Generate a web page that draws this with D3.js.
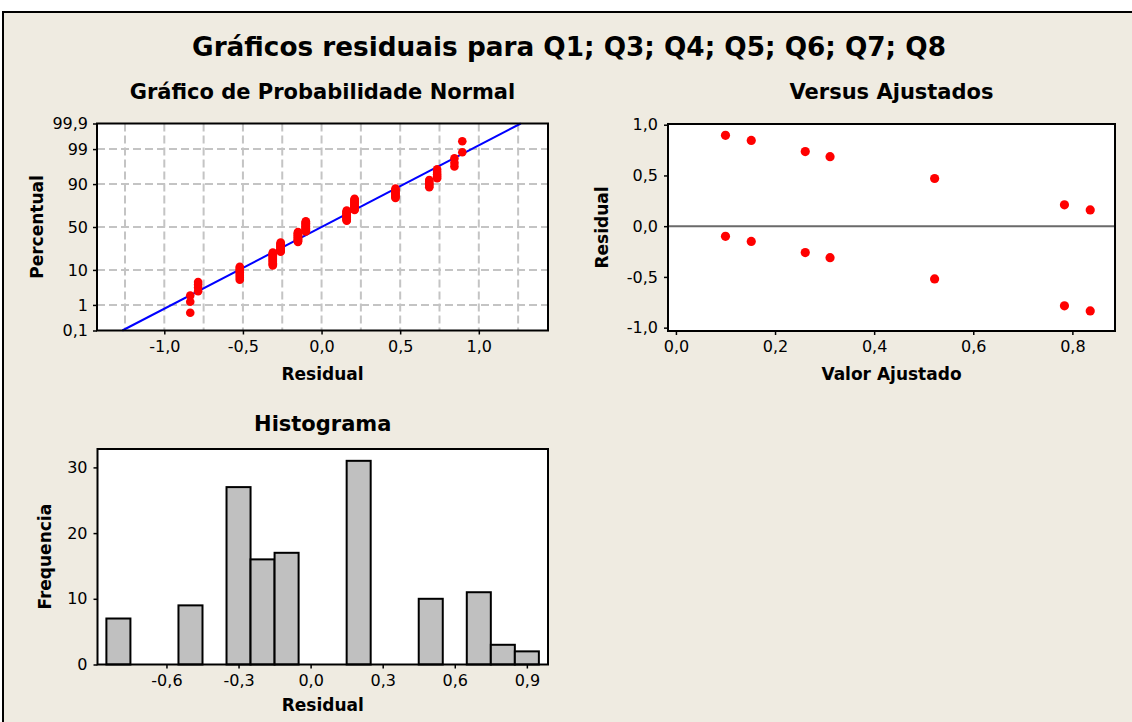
<!DOCTYPE html>
<html>
<head>
<meta charset="utf-8">
<script src="https://cdn.jsdelivr.net/npm/d3@7"></script>
<style>
  body { margin: 0; background: #fff; }
  svg text { font-family: "DejaVu Sans", Verdana, sans-serif; fill: #000; }
</style>
</head>
<body>
<script>
// residual values (distinct) and how many observations sit on each one
var residValues = [-0.835, -0.785, -0.52, -0.31, -0.26, -0.15, -0.10, 0.16, 0.21, 0.47, 0.685, 0.735, 0.845, 0.895];
var residCounts = [3, 4, 9, 14, 13, 16, 17, 16, 15, 10, 6, 5, 3, 2];
// fitted value matching each residual value above
var fittedValues = [0.836, 0.784, 0.522, 0.311, 0.261, 0.152, 0.100, 0.836, 0.784, 0.522, 0.311, 0.261, 0.152, 0.100];

// normal probability plot
var probTicks = [0.1, 1, 10, 50, 90, 99, 99.9];
var probGrid = [1, 10, 50, 90, 99];
var npResTicks = [-1.0, -0.5, 0.0, 0.5, 1.0];
var npResGrid = [-1.25, -1.0, -0.75, -0.5, -0.25, 0, 0.25, 0.5, 0.75, 1.0, 1.25];
var lineMean = 0.0, lineSd = 0.41;

// versus fits
var fitTicks = [0.0, 0.2, 0.4, 0.6, 0.8];
var vfResTicks = [-1.0, -0.5, 0.0, 0.5, 1.0];

// histogram
var binCenters = [-0.8, -0.5, -0.3, -0.2, -0.1, 0.2, 0.5, 0.7, 0.8, 0.9];
var binCounts = [7, 9, 27, 16, 17, 31, 10, 11, 3, 2];
var binWidth = 0.1;
var histXTicks = [-0.6, -0.3, 0.0, 0.3, 0.6, 0.9];
var histYTicks = [0, 10, 20, 30];

var W = 1132, H = 722;
var svg = d3.select("body").append("svg").attr("width", W).attr("height", H);

svg.append("rect").attr("x", 3).attr("y", 12).attr("width", 1140).attr("height", 730)
  .attr("fill", "#efebe1").attr("stroke", "#000").attr("stroke-width", 2);

svg.append("text").attr("x", 569).attr("y", 56).attr("text-anchor", "middle")
  .style("font-size", "26.3px").style("font-weight", "bold")
  .text("Gráficos residuais para Q1; Q3; Q4; Q5; Q6; Q7; Q8");

var loc = d3.formatLocale({decimal: ",", thousands: ".", grouping: [3], currency: ["", ""], minus: "-"});
var f1 = loc.format(".1f");

// inverse normal cdf (Acklam)
function qnorm(p) {
  var a = [-3.969683028665376e+01, 2.209460984245205e+02, -2.759285104469687e+02, 1.383577518672690e+02, -3.066479806614716e+01, 2.506628277459239e+00];
  var b = [-5.447609879822406e+01, 1.615858368580409e+02, -1.556989798598866e+02, 6.680131188771972e+01, -1.328068155288572e+01];
  var c = [-7.784894002430293e-03, -3.223964580411365e-01, -2.400758277161838e+00, -2.549732539343734e+00, 4.374664141464968e+00, 2.938163982698783e+00];
  var d = [7.784695709041462e-03, 3.224671290700398e-01, 2.445134137142996e+00, 3.754408661907416e+00];
  var pl = 0.02425, q, r;
  if (p < pl) {
    q = Math.sqrt(-2 * Math.log(p));
    return (((((c[0]*q+c[1])*q+c[2])*q+c[3])*q+c[4])*q+c[5]) / ((((d[0]*q+d[1])*q+d[2])*q+d[3])*q+1);
  }
  if (p > 1 - pl) {
    q = Math.sqrt(-2 * Math.log(1 - p));
    return -(((((c[0]*q+c[1])*q+c[2])*q+c[3])*q+c[4])*q+c[5]) / ((((d[0]*q+d[1])*q+d[2])*q+d[3])*q+1);
  }
  q = p - 0.5; r = q * q;
  return (((((a[0]*r+a[1])*r+a[2])*r+a[3])*r+a[4])*r+a[5])*q / (((((b[0]*r+b[1])*r+b[2])*r+b[3])*r+b[4])*r+1);
}

function styleAxis(g) {
  g.selectAll("path").remove();
  g.selectAll("line").attr("stroke", "#000").attr("stroke-width", 1.5);
  g.selectAll("text").style("font-size", "16px");
}

function frame(x0, y0, x1, y1) {
  return svg.append("rect").attr("x", x0).attr("y", y0).attr("width", x1 - x0).attr("height", y1 - y0)
    .attr("fill", "none").attr("stroke", "#000").attr("stroke-width", 2);
}

function panelTitle(x, y, t) {
  svg.append("text").attr("x", x).attr("y", y).attr("text-anchor", "middle")
    .style("font-size", "21px").style("font-weight", "bold").text(t);
}

function axisTitle(x, y, t, rot) {
  var tx = svg.append("text").attr("text-anchor", "middle")
    .style("font-size", "17px").style("font-weight", "bold").text(t);
  if (rot) tx.attr("transform", "translate(" + x + "," + y + ") rotate(-90)");
  else tx.attr("x", x).attr("y", y);
}

// ---------- Normal probability plot ----------
var np = {l: 97, r: 548, t: 123.5, b: 330.5};
var npX = d3.scaleLinear().domain([-1.428, 1.44]).range([np.l, np.r]);
var npY = d3.scaleLinear().domain([qnorm(0.001), qnorm(0.999)]).range([np.b, np.t]);

svg.append("rect").attr("x", np.l).attr("y", np.t).attr("width", np.r - np.l).attr("height", np.b - np.t).attr("fill", "#fff");

var npg = svg.append("g");
npg.selectAll(".vg").data(npResGrid).enter().append("line")
  .attr("x1", d => npX(d)).attr("x2", d => npX(d)).attr("y1", np.t).attr("y2", np.b)
  .attr("stroke", "#c4c4c4").attr("stroke-width", 2).attr("stroke-dasharray", "8,4");
npg.selectAll(".hg").data(probGrid).enter().append("line")
  .attr("x1", np.l).attr("x2", np.r).attr("y1", d => npY(qnorm(d / 100))).attr("y2", d => npY(qnorm(d / 100)))
  .attr("stroke", "#c4c4c4").attr("stroke-width", 2).attr("stroke-dasharray", "8,4");

// fitted normal line
var zLo = qnorm(0.001), zHi = qnorm(0.999);
npg.append("line")
  .attr("x1", npX(lineMean + lineSd * zLo)).attr("y1", npY(zLo))
  .attr("x2", npX(lineMean + lineSd * zHi)).attr("y2", npY(zHi))
  .attr("stroke", "#0000ff").attr("stroke-width", 2);

// points: each observation at its median-rank plotting position
var n = d3.sum(residCounts);
var npPts = [], rank = 0;
residValues.forEach(function(v, i) {
  for (var k = 0; k < residCounts[i]; k++) {
    rank++;
    npPts.push({x: v, p: (rank - 0.3) / (n + 0.4)});
  }
});
npg.selectAll("circle").data(npPts).enter().append("circle")
  .attr("cx", d => npX(d.x)).attr("cy", d => npY(qnorm(d.p))).attr("r", 4.3).attr("fill", "#ff0000");

svg.append("g").attr("transform", "translate(" + np.l + ",0)")
  .call(d3.axisLeft(npY).tickValues(probTicks.map(d => qnorm(d / 100)))
    .tickFormat((d, i) => String(probTicks[i]).replace(".", ",")).tickSize(4).tickPadding(5))
  .call(styleAxis);
svg.append("g").attr("transform", "translate(0," + np.b + ")")
  .call(d3.axisBottom(npX).tickValues(npResTicks).tickFormat(f1).tickSize(4).tickPadding(6))
  .call(styleAxis);
frame(np.l, np.t, np.r, np.b);
panelTitle((np.l + np.r) / 2, 99, "Gráfico de Probabilidade Normal");
axisTitle((np.l + np.r) / 2, 380, "Residual");
axisTitle(43, (np.t + np.b) / 2, "Percentual", true);

// ---------- Versus fits ----------
var vf = {l: 668, r: 1115, t: 124, b: 331};
var vfX = d3.scaleLinear().domain([-0.016, 0.886]).range([vf.l, vf.r]);
var vfY = d3.scaleLinear().domain([-1.033, 1.007]).range([vf.b, vf.t]);

svg.append("rect").attr("x", vf.l).attr("y", vf.t).attr("width", vf.r - vf.l).attr("height", vf.b - vf.t).attr("fill", "#fff");
svg.append("line").attr("x1", vf.l).attr("x2", vf.r).attr("y1", vfY(0)).attr("y2", vfY(0))
  .attr("stroke", "#6a6a6a").attr("stroke-width", 2);
svg.append("g").selectAll("circle").data(residValues).enter().append("circle")
  .attr("cx", (d, i) => vfX(fittedValues[i])).attr("cy", d => vfY(d)).attr("r", 4.6).attr("fill", "#ff0000");

svg.append("g").attr("transform", "translate(" + vf.l + ",0)")
  .call(d3.axisLeft(vfY).tickValues(vfResTicks).tickFormat(f1).tickSize(4).tickPadding(6))
  .call(styleAxis);
svg.append("g").attr("transform", "translate(0," + vf.b + ")")
  .call(d3.axisBottom(vfX).tickValues(fitTicks).tickFormat(f1).tickSize(4).tickPadding(6))
  .call(styleAxis);
frame(vf.l, vf.t, vf.r, vf.b);
panelTitle((vf.l + vf.r) / 2, 99, "Versus Ajustados");
axisTitle((vf.l + vf.r) / 2, 380, "Valor Ajustado");
axisTitle(608, (vf.t + vf.b) / 2, "Residual", true);

// ---------- Histogram ----------
var hs = {l: 97.5, r: 548, t: 449, b: 664.5};
var hX = d3.scaleLinear().domain([-0.887, 0.988]).range([hs.l, hs.r]);
var hY = d3.scaleLinear().domain([0, 32.8]).range([hs.b, hs.t]);

svg.append("rect").attr("x", hs.l).attr("y", hs.t).attr("width", hs.r - hs.l).attr("height", hs.b - hs.t).attr("fill", "#fff");
svg.append("g").selectAll("rect").data(binCenters).enter().append("rect")
  .attr("x", d => hX(d - binWidth / 2)).attr("width", d => hX(d + binWidth / 2) - hX(d - binWidth / 2))
  .attr("y", (d, i) => hY(binCounts[i])).attr("height", (d, i) => hY(0) - hY(binCounts[i]))
  .attr("fill", "#c0c0c0").attr("stroke", "#000").attr("stroke-width", 2);

svg.append("g").attr("transform", "translate(" + hs.l + ",0)")
  .call(d3.axisLeft(hY).tickValues(histYTicks).tickFormat(d3.format("d")).tickSize(4).tickPadding(6))
  .call(styleAxis);
svg.append("g").attr("transform", "translate(0," + hs.b + ")")
  .call(d3.axisBottom(hX).tickValues(histXTicks).tickFormat(f1).tickSize(4).tickPadding(6))
  .call(styleAxis);
frame(hs.l, hs.t, hs.r, hs.b);
panelTitle((hs.l + hs.r) / 2, 431, "Histograma");
axisTitle((hs.l + hs.r) / 2, 711, "Residual");
axisTitle(51, (hs.t + hs.b) / 2, "Frequencia", true);
</script>
</body>
</html>
